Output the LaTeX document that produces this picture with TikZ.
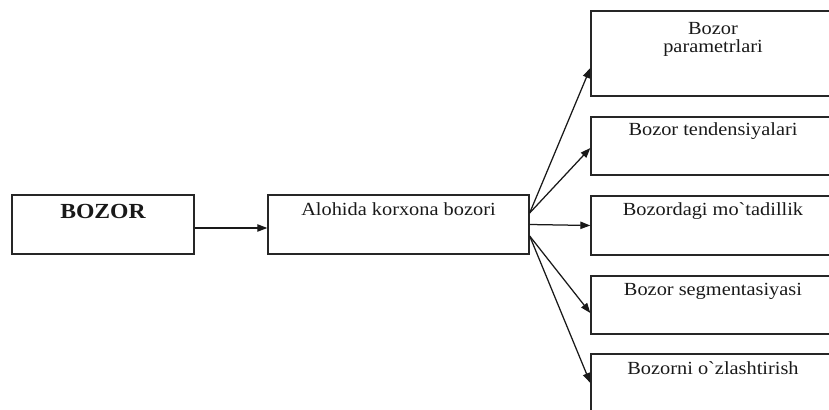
\documentclass[tikz,border=0pt]{standalone}
\usepackage{fontspec}
\setmainfont{Liberation Serif}
\newfontfamily\boxfont[FakeStretch=1.1]{Liberation Serif}
\usetikzlibrary{arrows.meta}
\begin{document}
\begin{tikzpicture}[x=0.6pt,y=-0.6pt,
  boxstyle/.style={draw=black!85,line width=0.8pt,rectangle,inner sep=0pt,anchor=center},
  txt/.style={anchor=base,inner sep=0pt,font=\boxfont\fontsize{11.1}{10.8}\selectfont,text=black!90,align=center},
  bigtxt/.style={anchor=base,inner sep=0pt,font=\boxfont\fontsize{12.9}{14}\selectfont\bfseries,text=black!90},
  conn/.style={draw=black!90,line width=0.75pt,-{Triangle[length=6pt,width=4.4pt]}}]
\useasboundingbox (0,0) rectangle (829,410);
\clip (0,0) rectangle (829,410);
% left boxes
\node[boxstyle,minimum width=109.2pt,minimum height=35.4pt] (bozor) at (103,224.5) {};
\node[boxstyle,minimum width=156.6pt,minimum height=35.4pt] (alohida) at (398.5,224.5) {};
% right boxes
\node[boxstyle,minimum width=147pt,minimum height=51pt] (r1) at (713.5,53.5) {};
\node[boxstyle,minimum width=147pt,minimum height=34.8pt] (r2) at (713.5,146) {};
\node[boxstyle,minimum width=147pt,minimum height=35.4pt] (r3) at (713.5,225.5) {};
\node[boxstyle,minimum width=147pt,minimum height=34.8pt] (r4) at (713.5,305) {};
\node[boxstyle,minimum width=147pt,minimum height=34.8pt] (r5) at (713.5,383) {};
% texts
\node[bigtxt] (tb) at (103,219) {BOZOR};
\node[txt] (ta) at (398.5,216) {Alohida korxona bozori};
\node[txt] (t1) at (713,53) {Bozor\\parametrlari};
\node[txt] (t2) at (713,136) {Bozor tendensiyalari};
\node[txt] (t3) at (713,216) {Bozordagi mo`tadillik};
\node[txt] (t4) at (713,296) {Bozor segmentasiyasi};
\node[txt] (t5) at (713,375) {Bozorni o`zlashtirish};
% connectors
\draw[conn] ([yshift=-2.1pt]bozor.east) -- ([yshift=-2.1pt]alohida.west);
\draw[conn] ([yshift=6.9pt]alohida.east) -- ([yshift=-8.7pt]r1.west);
\draw[conn] ([yshift=6.9pt]alohida.east) -- ([yshift=-1.2pt]r2.west);
\draw[conn] (alohida.east) -- (r3.west);
\draw[conn] ([yshift=-6.9pt]alohida.east) -- ([yshift=-4.8pt]r4.west);
\draw[conn] ([yshift=-6.9pt]alohida.east) -- (r5.west);
\end{tikzpicture}
\end{document}
